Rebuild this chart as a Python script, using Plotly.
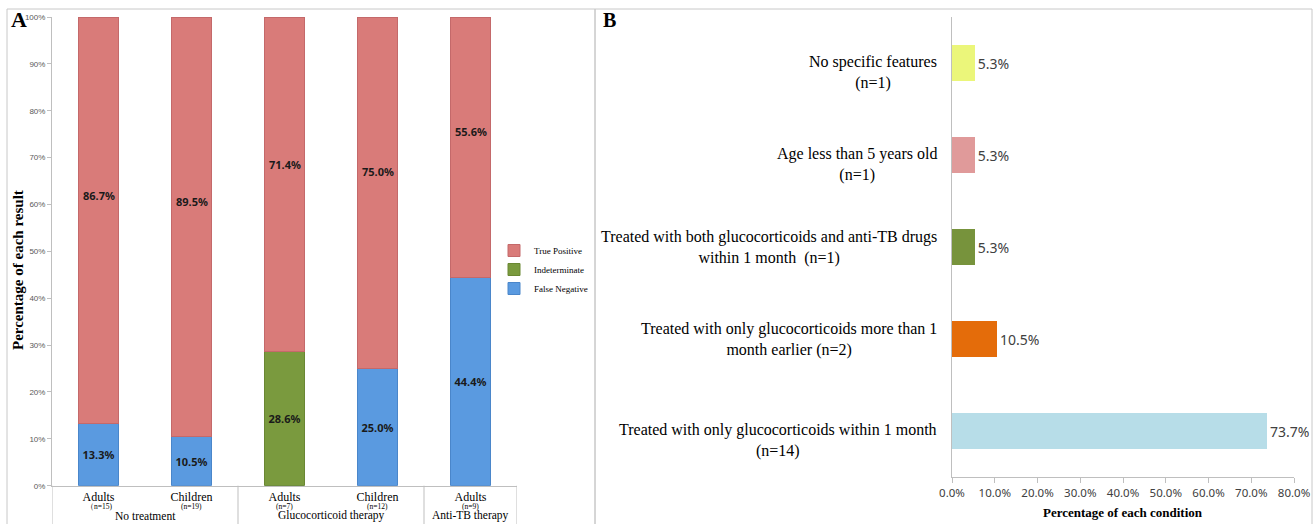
import plotly.graph_objects as go

# ---------------- Panel A data ----------------
groups = ["No treatment", "No treatment", "Glucocorticoid therapy", "Glucocorticoid therapy", "Anti-TB therapy"]
subgroups = ["Adults", "Children", "Adults", "Children", "Adults"]
group_n = ["（n=15)", "(n=19)", "(n=7)", "(n=12)", "(n=9)"]
false_negative = [13.3, 10.5, 0.0, 25.0, 44.4]
indeterminate = [0.0, 0.0, 28.6, 0.0, 0.0]
true_positive = [86.7, 89.5, 71.4, 75.0, 55.6]
y_ticks_a = [0, 10, 20, 30, 40, 50, 60, 70, 80, 90, 100]

# ---------------- Panel B data ----------------
conditions = [
    "No specific features<br>(n=1)",
    "Age less than 5 years old<br>(n=1)",
    "Treated with both glucocorticoids and anti-TB drugs<br>within 1 month  (n=1)",
    "Treated with only glucocorticoids more than 1<br>month earlier (n=2)",
    "Treated with only glucocorticoids within 1 month<br>(n=14)",
]
condition_pct = [5.3, 5.3, 5.3, 10.5, 73.7]
condition_colors = ["#EBF67A", "#E09A9A", "#77933C", "#E46C0A", "#B7DDE8"]
x_ticks_b = [0, 10, 20, 30, 40, 50, 60, 70, 80]

W, H = 1314, 524
def px(x):
    return x / W
def py(y):
    return 1 - y / H

positions = list(range(len(subgroups)))

def labels(vals):
    return [f"{v:.1f}%" if v > 0 else "" for v in vals]

fig = go.Figure()

series = [
    ("False Negative", false_negative, "#5A9AE0", "#4A86CA", True),
    ("Indeterminate", indeterminate, "#7A9A3E", "#6A8733", True),
    ("True Positive", true_positive, "#D97B79", "#C4696A", False),
]
for name, vals, col, edge, inside_text in series:
    fig.add_trace(go.Bar(
        x=positions, y=vals, name=name, width=0.42,
        marker=dict(color=col, line=dict(color=edge, width=1)),
        text=labels(vals) if inside_text else None,
        textposition="inside", insidetextanchor="middle",
        textangle=0, constraintext="none",
        textfont=dict(family="Noto Sans", size=11, color="#1a1a1a", weight="bold"),
        xaxis="x", yaxis="y",
    ))

fig.add_trace(go.Bar(
    x=condition_pct, y=conditions, orientation="h", width=0.39,
    marker=dict(color=condition_colors, line=dict(width=0)),
    text=[f"{v:.1f}%" for v in condition_pct], textposition="outside",
    textfont=dict(family="Noto Sans", size=14, color="#404040"),
    cliponaxis=False, showlegend=False,
    xaxis="x2", yaxis="y2",
))

axis_gray = "#bfbfbf"
fig.update_layout(
    width=W, height=H,
    margin=dict(l=0, r=0, t=0, b=0),
    paper_bgcolor="white", plot_bgcolor="white",
    barmode="stack",
    font=dict(family="Liberation Serif", color="black"),
    xaxis=dict(
        domain=[px(52), px(517)], anchor="y", range=[-0.5, len(subgroups) - 0.5],
        tickvals=positions, ticktext=subgroups, ticklabelstandoff=0,
        showline=True, linecolor=axis_gray, linewidth=1,
        ticks="", tickfont=dict(family="Liberation Serif", size=12, color="black"),
        showgrid=False, zeroline=False, automargin=False,
    ),
    yaxis=dict(
        domain=[py(485.7), py(17)], anchor="x", range=[0, 100],
        tickvals=y_ticks_a, ticktext=[f"{v}%" for v in y_ticks_a],
        tickfont=dict(family="Liberation Sans", size=8, color="#595959"),
        showline=True, linecolor=axis_gray, ticks="outside", ticklen=4, tickcolor=axis_gray,
        showgrid=False, zeroline=False, automargin=False,
    ),
    xaxis2=dict(
        domain=[px(952), px(1294)], anchor="y2", range=[0, 80],
        tickvals=x_ticks_b, ticktext=[f"{v:.1f}%" for v in x_ticks_b],
        tickfont=dict(family="Noto Sans", size=11.5, color="#404040"),
        showline=True, linecolor=axis_gray, ticks="outside", ticklen=5, tickcolor=axis_gray,
        showgrid=False, zeroline=False, automargin=False,
    ),
    yaxis2=dict(
        domain=[py(477), py(17)], anchor="x2", type="category", autorange="reversed",
        showticklabels=False, showline=True, linecolor=axis_gray, ticks="",
        showgrid=False, automargin=False,
    ),
    legend=dict(
        x=px(494), y=py(236), xanchor="left", yanchor="top",
        traceorder="reversed", font=dict(family="Liberation Serif", size=9, color="black"),
        bgcolor="rgba(0,0,0,0)", itemwidth=30, tracegroupgap=0,
    ),
)

annotations = [
    dict(text="<b>A</b>", x=px(9), y=py(20), xref="paper", yref="paper",
         xanchor="left", yanchor="middle", showarrow=False,
         font=dict(family="Liberation Serif", size=22, color="black")),
    dict(text="<b>B</b>", x=px(601), y=py(20), xref="paper", yref="paper",
         xanchor="left", yanchor="middle", showarrow=False,
         font=dict(family="Liberation Serif", size=20, color="black")),
    dict(text="<b>Percentage of each result</b>", x=px(18), y=py(270), xref="paper", yref="paper",
         xanchor="center", yanchor="middle", textangle=-90, showarrow=False,
         font=dict(family="Liberation Serif", size=15, color="black")),
    dict(text="<b>Percentage of each condition</b>", x=px(1123), y=py(512), xref="paper", yref="paper",
         xanchor="center", yanchor="middle", showarrow=False,
         font=dict(family="Liberation Serif", size=13, color="black")),
]

# True Positive labels (placed in the upper part of each segment, as in the source)
for i, (fn, ind, tp) in enumerate(zip(false_negative, indeterminate, true_positive)):
    annotations.append(dict(
        text=f"<b>{tp:.1f}%</b>", x=i, y=fn + ind + tp * 0.56, xref="x", yref="y",
        xanchor="center", yanchor="middle", showarrow=False,
        font=dict(family="Noto Sans", size=11, color="#1a1a1a"),
    ))

# sample sizes under the category labels
for i, n in enumerate(group_n):
    annotations.append(dict(
        text=n, x=i, y=py(506), xref="x", yref="paper",
        xanchor="center", yanchor="middle", showarrow=False,
        font=dict(family="Liberation Serif", size=7.5, color="black"),
    ))

# group labels and divider positions
spans = []
start = 0
for i in range(1, len(groups) + 1):
    if i == len(groups) or groups[i] != groups[start]:
        spans.append((groups[start], start, i - 1))
        start = i
for name, a, b in spans:
    annotations.append(dict(
        text=name, x=(a + b) / 2, y=py(515.5), xref="x", yref="paper",
        xanchor="center", yanchor="middle", showarrow=False,
        font=dict(family="Liberation Serif", size=11.5, color="black"),
    ))

# condition labels: centred lines, right-aligned block; labels whose second
# line is only the sample size sit a little lower, as in the source
for c in conditions:
    second = c.split("<br>")[1]
    annotations.append(dict(
        text=c, x=px(939), y=c, xref="paper", yref="y2",
        xanchor="right", yanchor="middle", align="center", showarrow=False,
        yshift=-9 if second.startswith("(") else 0,
        font=dict(family="Liberation Serif", size=16, color="black"),
    ))
fig.update_layout(annotations=annotations)

border = "#c8c8c8"
shapes = [
    dict(type="rect", xref="paper", yref="paper", x0=px(7), x1=px(595), y0=-0.02, y1=py(9),
         line=dict(color=border, width=1)),
    dict(type="rect", xref="paper", yref="paper", x0=px(595), x1=px(1312), y0=-0.02, y1=py(9),
         line=dict(color=border, width=1)),
]
dividers = [spans[0][1] - 0.5] + [b + 0.5 for _, _, b in spans]
for d in dividers:
    shapes.append(dict(type="line", xref="x", yref="paper", x0=d, x1=d,
                       y0=py(485.7), y1=-0.02, line=dict(color=axis_gray, width=1)))
fig.update_layout(shapes=shapes)

fig.write_html("out.html", config={"displayModeBar": False},
               post_script="document.body.style.margin='0px';")
